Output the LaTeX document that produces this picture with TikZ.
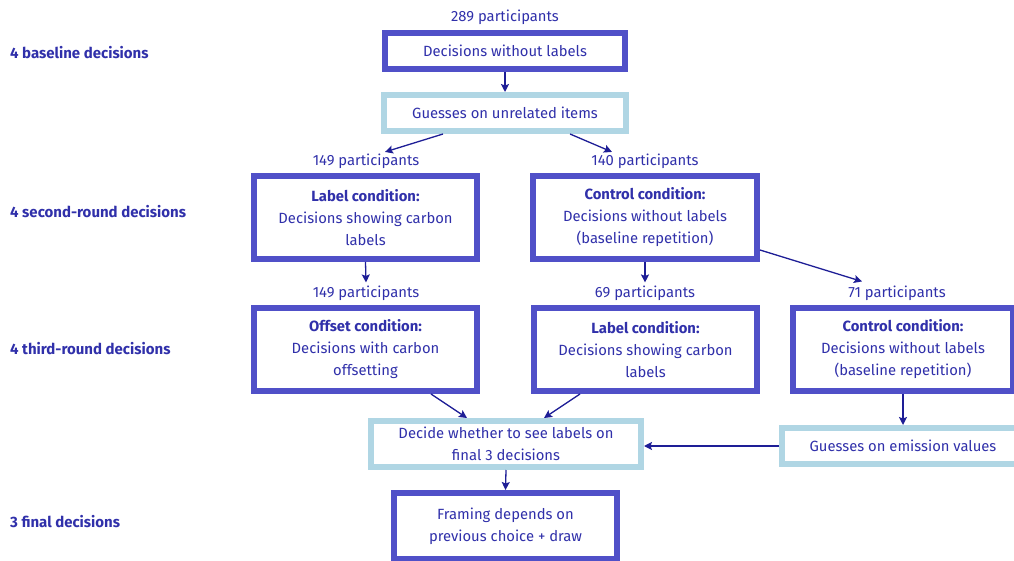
\documentclass[tikz,border=0pt]{standalone}
\usepackage{fontspec}
\setmainfont{Fira Sans}
\usetikzlibrary{arrows.meta}
\definecolor{txt}{RGB}{48,48,170}
\definecolor{darkb}{RGB}{80,80,200}
\definecolor{lightb}{RGB}{176,214,228}
\definecolor{arr}{RGB}{30,30,150}
\tikzset{
  box/.style={draw, line width=6pt, fill=white, align=center, text=txt, inner sep=0pt,
    font=\fontsize{14.8}{22}\selectfont},
  darkbox/.style={box, draw=darkb},
  lightbox/.style={box, draw=lightb},
  plabel/.style={text=txt, inner sep=0pt, font=\fontsize{14.8}{16}\selectfont},
  rowlabel/.style={text=txt, inner sep=0pt, anchor=west, font=\fontsize{15}{16}\selectfont\bfseries},
  conn/.style={draw=arr, line width=1.3pt, -{Stealth[length=8pt,width=8pt,inset=1.5pt]}},
}
\begin{document}
\begin{tikzpicture}[x=1pt,y=-1pt]
\useasboundingbox (0,0) rectangle (1014,561);
% row labels
\node[rowlabel] (r1) at (10,53) {4 baseline decisions};
\node[rowlabel] (r2) at (10,212) {4 second-round decisions};
\node[rowlabel] (r3) at (10,349) {4 third-round decisions};
\node[rowlabel] (r4) at (10,522) {3 final decisions};
% participant labels
\node[plabel] (p289) at (505,17) {289 participants};
\node[plabel] (p149a) at (366,161.5) {149 participants};
\node[plabel] (p140) at (645,161.5) {140 participants};
\node[plabel] (p149b) at (366,293) {149 participants};
\node[plabel] (p69) at (645,293) {69 participants};
\node[plabel] (p71) at (897,293) {71 participants};
% boxes
\node[darkbox, minimum width=240pt, minimum height=36pt] (b1) at (505,51) {Decisions without labels};
\node[lightbox, minimum width=242pt, minimum height=36pt] (b2) at (505,113) {Guesses on unrelated items};
\node[darkbox, minimum width=223pt, minimum height=83pt] (lab1) at (365.5,217.5) {\textbf{Label condition:}\\Decisions showing carbon\\labels};
\node[darkbox, minimum width=224pt, minimum height=83pt] (ctl1) at (645,217.5) {\textbf{Control condition:}\\Decisions without labels\\(baseline repetition)};
\node[darkbox, minimum width=223pt, minimum height=83pt] (off) at (365.5,349.5) {\textbf{Offset condition:}\\Decisions with carbon\\offsetting};
\node[darkbox, minimum width=223pt, minimum height=83pt] (lab2) at (645.5,349.5) {\textbf{Label condition:}\\Decisions showing carbon\\labels};
\node[darkbox, minimum width=220pt, minimum height=83pt] (ctl2) at (903,349.5) {\textbf{Control condition:}\\Decisions without labels\\(baseline repetition)};
\node[lightbox, minimum width=270pt, minimum height=46pt] (dec) at (506,444) {Decide whether to see labels on\\final 3 decisions};
\node[lightbox, minimum width=242pt, minimum height=36pt] (em) at (903,446) {Guesses on emission values};
\node[darkbox, minimum width=223pt, minimum height=66pt] (fin) at (505.5,526) {Framing depends on\\previous choice + draw};
% connectors
\draw[conn] (b1.south) -- (b2.north);
\draw[conn] ([xshift=-62pt]b2.south) -- ([xshift=19pt,yshift=2pt]p149a.north);
\draw[conn] ([xshift=65pt]b2.south) -- ([xshift=-33pt,yshift=2pt]p140.north);
\draw[conn] (lab1.south) -- ([yshift=3pt]p149b.north);
\draw[conn] (ctl1.south) -- ([yshift=3pt]p69.north);
\draw[conn] ([yshift=-32.5pt]ctl1.east) -- ([xshift=-35pt,yshift=4pt]p71.north);
\draw[conn] ([xshift=65.5pt]off.south) -- ([xshift=-39pt]dec.north);
\draw[conn] ([xshift=-65.5pt]lab2.south) -- ([xshift=38pt]dec.north);
\draw[conn] (ctl2.south) -- (ctl2.south |- em.north);
\draw[conn] (em.west) -- (em.west -| dec.east);
\draw[conn] (dec.south) -- (fin.north);
\end{tikzpicture}
\end{document}
